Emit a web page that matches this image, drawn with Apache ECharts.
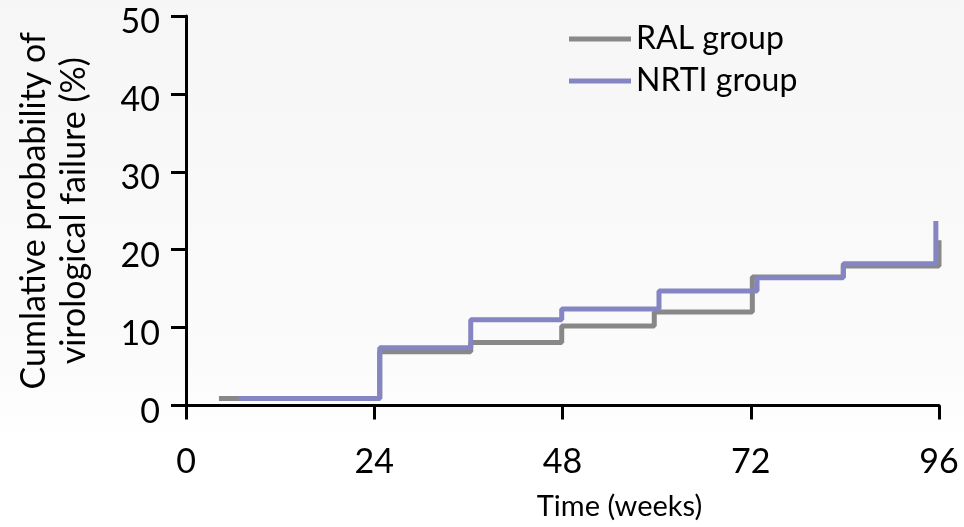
<!DOCTYPE html>
<html>
<head>
<meta charset="utf-8">
<script src="https://cdn.jsdelivr.net/npm/echarts@6/dist/echarts.min.js"></script>
<style>
html,body{margin:0;padding:0;background:#fff;}
#chart{width:964px;height:527px;}
</style>
</head>
<body>
<div id="chart"></div>
<script>
// Data (time in weeks, cumulative probability %)
var seriesNames = ['RAL group', 'NRTI group'];
var ralWeeks   = [4.2, 24.7, 36.3, 47.9, 59.7, 72.2, 83.8, 96.0];
var ralValues  = [0.9, 6.9, 8.1, 10.2, 12.0, 16.5, 17.9, 21.2];
var nrtiWeeks  = [6.7, 24.7, 36.3, 47.9, 60.3, 72.8, 83.8, 95.6];
var nrtiValues = [0.9, 7.4, 11.0, 12.4, 14.7, 16.4, 18.2, 23.7];
var xTicks = [0, 24, 48, 72, 96];
var yTicks = [0, 10, 20, 30, 40, 50];

function pairs(xs, ys) { return xs.map(function (x, i) { return [x, ys[i]]; }); }

var FONT = 'Lato, "Open Sans", sans-serif';
var chart = echarts.init(document.getElementById('chart'), null, {renderer: 'canvas'});
chart.setOption({
  animation: false,
  backgroundColor: {
    type: 'linear', x: 0, y: 0, x2: 0, y2: 1,
    colorStops: [
      {offset: 0, color: '#f6f6f6'},
      {offset: 0.7, color: '#fbfbfb'},
      {offset: 0.85, color: '#ffffff'},
      {offset: 1, color: '#ffffff'}
    ]
  },
  grid: {left: 186, right: 25, top: 16, bottom: 121.5, containLabel: false},
  legend: {
    orient: 'vertical',
    left: 569,
    top: 22,
    padding: 0,
    itemWidth: 62,
    itemHeight: 5,
    itemGap: 8,
    icon: 'rect',
    textStyle: {fontFamily: FONT, fontSize: 32, color: '#000', lineHeight: 34},
    data: seriesNames
  },
  xAxis: {
    type: 'value',
    min: xTicks[0], max: xTicks[xTicks.length - 1], interval: 24,
    name: 'Time (weeks)',
    nameLocation: 'middle',
    nameGap: 87,
    nameTextStyle: {fontFamily: FONT, fontSize: 29, color: '#000', padding: [0, 0, 0, 114]},
    axisLine: {show: true, lineStyle: {color: '#000', width: 3}},
    axisTick: {show: true, length: 14, lineStyle: {color: '#000', width: 3}},
    axisLabel: {fontFamily: FONT, fontSize: 34, color: '#000', margin: 40},
    splitLine: {show: false}
  },
  yAxis: {
    type: 'value',
    min: yTicks[0], max: yTicks[yTicks.length - 1], interval: 10,
    name: 'Cumlative probability of\nvirological failure (%)',
    nameLocation: 'middle',
    nameRotate: 90,
    nameGap: 92,
    nameTextStyle: {fontFamily: FONT, fontSize: 34, color: '#000', lineHeight: 40},
    axisLine: {show: true, lineStyle: {color: '#000', width: 3}},
    axisTick: {show: true, length: 15, lineStyle: {color: '#000', width: 3}},
    axisLabel: {fontFamily: FONT, fontSize: 34, color: '#000', margin: 26, verticalAlign: 'top', lineHeight: 13},
    splitLine: {show: false}
  },
  series: [
    {
      name: seriesNames[0], type: 'line', step: 'end', showSymbol: false, clip: false,
      color: '#888888',
      lineStyle: {color: '#888888', width: 5},
      data: pairs(ralWeeks, ralValues)
    },
    {
      name: seriesNames[1], type: 'line', step: 'end', showSymbol: false, clip: false,
      color: '#8585c3',
      lineStyle: {color: '#8585c3', width: 5},
      data: pairs(nrtiWeeks, nrtiValues)
    }
  ]
});
</script>
</body>
</html>
